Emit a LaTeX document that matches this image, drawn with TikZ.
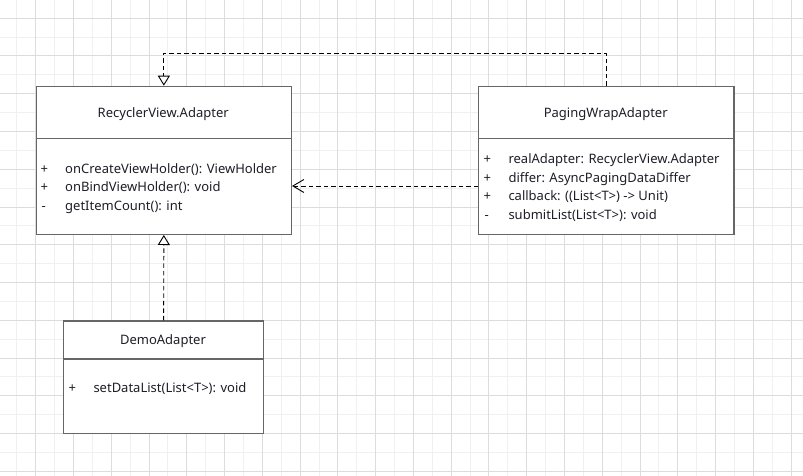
\documentclass[tikz,border=0pt]{standalone}
\usepackage{fontspec}
\setmainfont{Noto Sans}
\usetikzlibrary{arrows.meta}
\definecolor{gridminor}{HTML}{F0F0F0}
\definecolor{gridmajor}{HTML}{DCDCDC}
\definecolor{boxline}{HTML}{666666}
\definecolor{txt}{HTML}{1E1E28}
\tikzset{
  classbox/.style={draw=boxline, line width=1.3pt, fill=white, rectangle, anchor=north west, inner sep=0pt},
  sepline/.style={draw=boxline, line width=1.3pt},
  title/.style={font=\fontsize{13}{15}\selectfont, text=txt, anchor=base, inner sep=0pt},
  member/.style={font=\fontsize{13}{15}\selectfont, text=txt, anchor=base west, inner sep=0pt},
  conn/.style={draw=black, line width=0.9pt, dash pattern=on 4.5pt off 3pt},
  realize/.style={conn, -{Triangle[open, width=12pt, length=10pt, line width=0.9pt]}},
  depend/.style={conn, -{Straight Barb[length=11pt, width=13pt, line width=0.9pt]}},
}
\begin{document}
\begin{tikzpicture}[x=1pt, y=-1pt]
\useasboundingbox (0,0) rectangle (803,476);
\fill[white] (0,0) rectangle (803,476);
% grid
\foreach \i in {-1,...,21} {
  \draw[gridminor, line width=0.9pt] ({35.7+18.885+\i*37.77},0) -- ({35.7+18.885+\i*37.77},476);
}
\foreach \i in {-1,...,12} {
  \draw[gridminor, line width=0.9pt] (0,{18.1+18.885+\i*37.77}) -- (803,{18.1+18.885+\i*37.77});
}
\foreach \i in {-1,...,21} {
  \draw[gridmajor, line width=0.9pt] ({35.7+\i*37.77},0) -- ({35.7+\i*37.77},476);
}
\foreach \i in {-1,...,12} {
  \draw[gridmajor, line width=0.9pt] (0,{18.1+\i*37.77}) -- (803,{18.1+\i*37.77});
}

% RecyclerView.Adapter
\node[classbox, minimum width=255pt, minimum height=148pt] (rv) at (35.7,85.7) {};
\draw[sepline] (35.7,138.3) -- (290.7,138.3);
\node[title] (rvt) at (163.2,117.4) {RecyclerView.Adapter};
\node[member] (rv1s) at (40.5,173.2) {+};
\node[member] (rv1) at (65,173.2) {onCreateViewHolder(): ViewHolder};
\node[member] (rv2s) at (40.5,191.7) {+};
\node[member] (rv2) at (65,191.7) {onBindViewHolder(): void};
\node[member] (rv3s) at (41.5,210.7) {-};
\node[member] (rv3) at (65,210.7) {getItemCount(): int};

% PagingWrapAdapter
\node[classbox, minimum width=255.3pt, minimum height=148pt] (pw) at (478,85.7) {};
\draw[sepline] (478,138.3) -- (733.3,138.3);
\node[title] (pwt) at (605.7,117.4) {PagingWrapAdapter};
\node[member] (pw1s) at (483.5,163.2) {+};
\node[member] (pw1) at (508.3,163.2) {realAdapter: RecyclerView.Adapter};
\node[member] (pw2s) at (483.5,182.2) {+};
\node[member] (pw2) at (508.3,182.2) {differ: AsyncPagingDataDiffer};
\node[member] (pw3s) at (483.5,200.9) {+};
\node[member] (pw3) at (508.3,200.9) {callback: ((List<T>) -> Unit)};
\node[member] (pw4s) at (484.5,219.6) {-};
\node[member] (pw4) at (508.3,219.6) {submitList(List<T>): void};

% DemoAdapter
\node[classbox, minimum width=200pt, minimum height=112.7pt] (demo) at (63,320.3) {};
\draw[sepline] (63,359) -- (263,359);
\node[title] (demot) at (163,344.8) {DemoAdapter};
\node[member] (demo1s) at (68.5,392.6) {+};
\node[member] (demo1) at (93.3,392.6) {setDataList(List<T>): void};

% connectors
\coordinate (topy) at (0,53.3);
\coordinate (depy) at (0,186);
\draw[realize] (pw.north) -- (pw.north |- topy) -| (rv.north);
\draw[depend] (pw.west |- depy) -- (rv.east |- depy);
\draw[realize] (demo.north) -- (rv.south);
\end{tikzpicture}
\end{document}
